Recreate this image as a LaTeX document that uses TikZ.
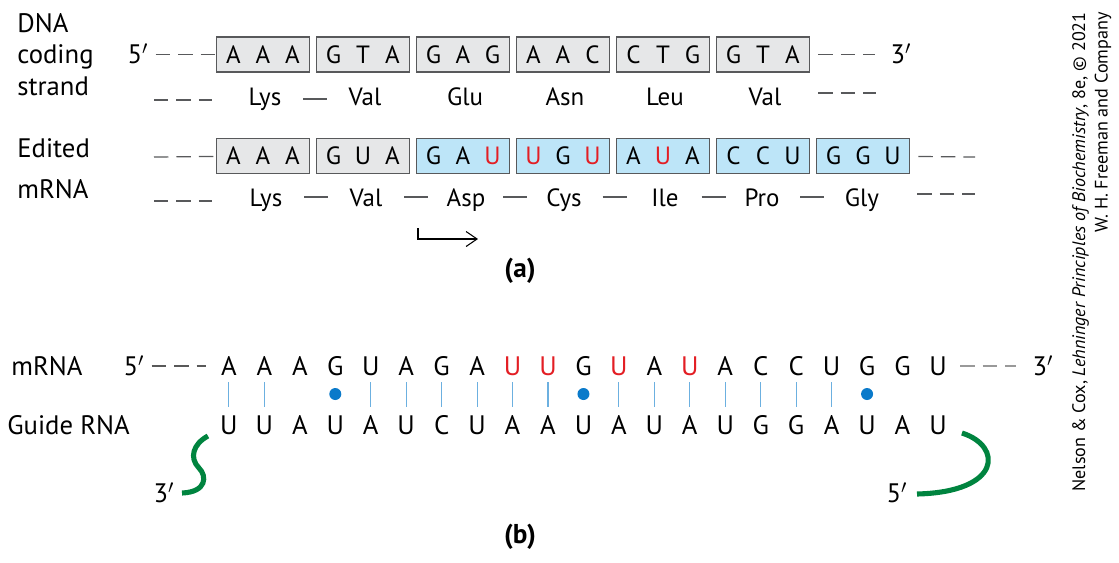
\documentclass[tikz,border=0pt]{standalone}
\usepackage{fontspec}
\setmainfont{PT Sans}
\usetikzlibrary{calc,arrows.meta}
\definecolor{boxgray}{HTML}{E6E7E8}
\definecolor{boxline}{HTML}{58595B}
\definecolor{rnablue}{HTML}{BDE5F8}
\definecolor{editred}{HTML}{E31E24}
\definecolor{pairblue}{HTML}{6CB0E0}
\definecolor{dotblue}{HTML}{0A7ACA}
\definecolor{guidegreen}{HTML}{00843F}
\newcommand\ru{\textcolor{editred}{U}}
\newcommand\cod[3]{\makebox[0.59cm]{#1}\makebox[0.59cm]{#2}\makebox[0.59cm]{#3}}
\tikzset{
  codon/.style={draw=boxline, line width=0.7pt, minimum width=1.87cm, minimum height=0.7cm, inner sep=0pt, font=\fontsize{14.2}{17}\selectfont},
  amino/.style={inner sep=0pt, text height=10pt, text depth=0pt, font=\fontsize{14.2}{17}\selectfont},
  base/.style={inner sep=0pt, text height=10.5pt, text depth=0pt, font=\fontsize{15.2}{18}\selectfont},
  lab/.style={inner sep=0pt, anchor=base west, font=\fontsize{15.2}{18}\selectfont},
  prime/.style={inner sep=0pt, text height=10.5pt, text depth=0pt, font=\fontsize{15.2}{18}\selectfont},
  gap/.style={line width=0.7pt, color=boxline, dash pattern=on 0.29cm off 0.16cm},
  link/.style={line width=0.7pt, color=boxline},
  pairline/.style={line width=0.6pt, color=pairblue, shorten <=0.32cm, shorten >=0.36cm},
  strand/.style={line width=2.9pt, color=guidegreen},
}
\begin{document}
\begin{tikzpicture}[x=0.02cm, y=-0.02cm]
			%%%%% START %%%%%
			\useasboundingbox (0,0) rectangle (1119,562);
			
			% (a) DNA coding strand
			\node[lab] (dnaA) at (17,32) {DNA};
			\node[lab] (dnaB) at (17,63) {coding};
			\node[lab] (dnaC) at (17,95) {strand};
			\node[prime] (dfive) at (138,54.5) {5$'$};
			\foreach \a/\b/\c [count=\i] in {A/A/A,G/T/A,G/A/G,A/A/C,C/T/G,G/T/A}
				\node[codon, fill=boxgray] (d\i) at ({163+100*\i},54.5) {\cod{\a}{\b}{\c}};
			\node[prime] (dthree) at (901,54.5) {3$'$};
			\draw[gap, shorten <=0.14cm] (dfive) -- (d1);
			\draw[gap, shorten <=0.16cm, shorten >=0.3cm] (d6) -- (dthree);
			
			\foreach \aa [count=\i] in {Lys,Val,Glu,Asn,Leu,Val}
				\node[amino] (p\i) at ({165+100*\i},97) {\aa};
			\draw[gap] (154,100) -- (212,100);
			\draw[gap] (818,93) -- (876,93);
			\draw[link] ($(p1)!.5!(p2)$) ++(-12,2) -- ++(24,0);
			
			% (a) edited mRNA
			\node[lab] (edA) at (17,157) {Edited};
			\node[lab] (edB) at (17,198) {mRNA};
			\foreach \a/\b/\c/\f [count=\i] in {A/A/A/boxgray,G/U/A/boxgray,G/A/\ru/rnablue,\ru/G/\ru/rnablue,A/\ru/A/rnablue,C/C/U/rnablue,G/G/U/rnablue}
				\node[codon, fill=\f] (e\i) at ({163+100*\i},156) {\cod{\a}{\b}{\c}};
			\coordinate (eleft) at (154,157);
			\coordinate (eright) at (975,157);
			\draw[gap] (eleft) -- (e1);
			\draw[gap, shorten <=0.16cm] (e7) -- (eright);
			
			\foreach \aa/\dx [count=\i] in {Lys/3,Val/3,Asp/3,Cys/1,Ile/2,Pro/-1,Gly/-1}
				\node[amino] (q\i) at ({163+100*\i+\dx},198) {\aa};
			\draw[gap] (154,201) -- (212,201);
			\draw[gap] (917,194) -- (975,194);
			\foreach \i [evaluate=\i as \j using int(\i+1)] in {1,...,6}
				\draw[link] ($(q\i)!.5!(q\j)$) ++(-12,-1) -- ++(24,0);
			
			\draw[line width=0.6pt, -{Straight Barb[length=0.22cm, width=0.3cm]}] (418,228) -- (418,239) -- (478,239);
			
			\node[font=\bfseries\fontsize{15.5}{18}\selectfont] (tagA) at (520,271) {(a)};
			
			% (b) guide RNA pairing
			\node[lab] (mlab) at (11,375) {mRNA};
			\node[lab] (glab) at (7,434) {Guide RNA};
			\foreach \b [count=\i] in {A,A,A,G,U,A,G,A,\ru,\ru,G,\ru,A,\ru,A,C,C,U,G,G,U}
				\node[base] (m\i) at ({193.5+35.45*\i},366) {\b};
			\foreach \b [count=\i] in {U,U,A,U,A,U,C,U,A,A,U,A,U,A,U,G,G,A,U,A,U}
				\node[base] (g\i) at ({193.5+35.45*\i},425) {\b};
			\node[prime] (mfive) at (134,366) {5$'$};
			\node[prime] (mthree) at (1043,366) {3$'$};
			\draw[gap, color=black!65, shorten <=0.14cm, shorten >=0.3cm] (mfive) -- (m1);
			\draw[gap, color=black!40, shorten <=0.26cm, shorten >=0.32cm] (m21) -- (mthree);
			
			\foreach \i in {1,2,5,6,7,8,9,10,12,13,14,15,16,17,18}
				\draw[pairline] (m\i.center) -- (g\i.center);
			\foreach \i in {4,11,19}
				\fill[dotblue] ($(m\i.center)!0.475!(g\i.center)$) circle (6);
			
			\coordinate (gthreeend) at (182,493);
			\coordinate (gfiveend) at (917,494);
			\draw[strand] ([xshift=-0.42cm, yshift=-0.22cm]g1.center) .. controls (193,444) and (189,458) .. (199,468) .. controls (207,476) and (207,492) .. (gthreeend);
			\draw[strand] ([xshift=0.48cm, yshift=-0.16cm]g21.center) .. controls (1003,446) and (1002,492) .. (gfiveend);
			\node[prime] (gthree) at (164,493) {3$'$};
			\node[prime] (gfive) at (897,493) {5$'$};
			
			\node[font=\bfseries\fontsize{15.5}{18}\selectfont] (tagB) at (520,537) {(b)};
			
			% credit line
			\node[rotate=90, anchor=north east, align=right, inner sep=0pt, font=\fontsize{10.3}{12.8}\selectfont] (credit) at (1072,12) {Nelson \& Cox, \textit{Lehninger Principles of Biochemistry}, 8e, \textcopyright{} 2021\\W. H. Freeman and Company};
			%%%%% END %%%%%
\end{tikzpicture}
\end{document}
